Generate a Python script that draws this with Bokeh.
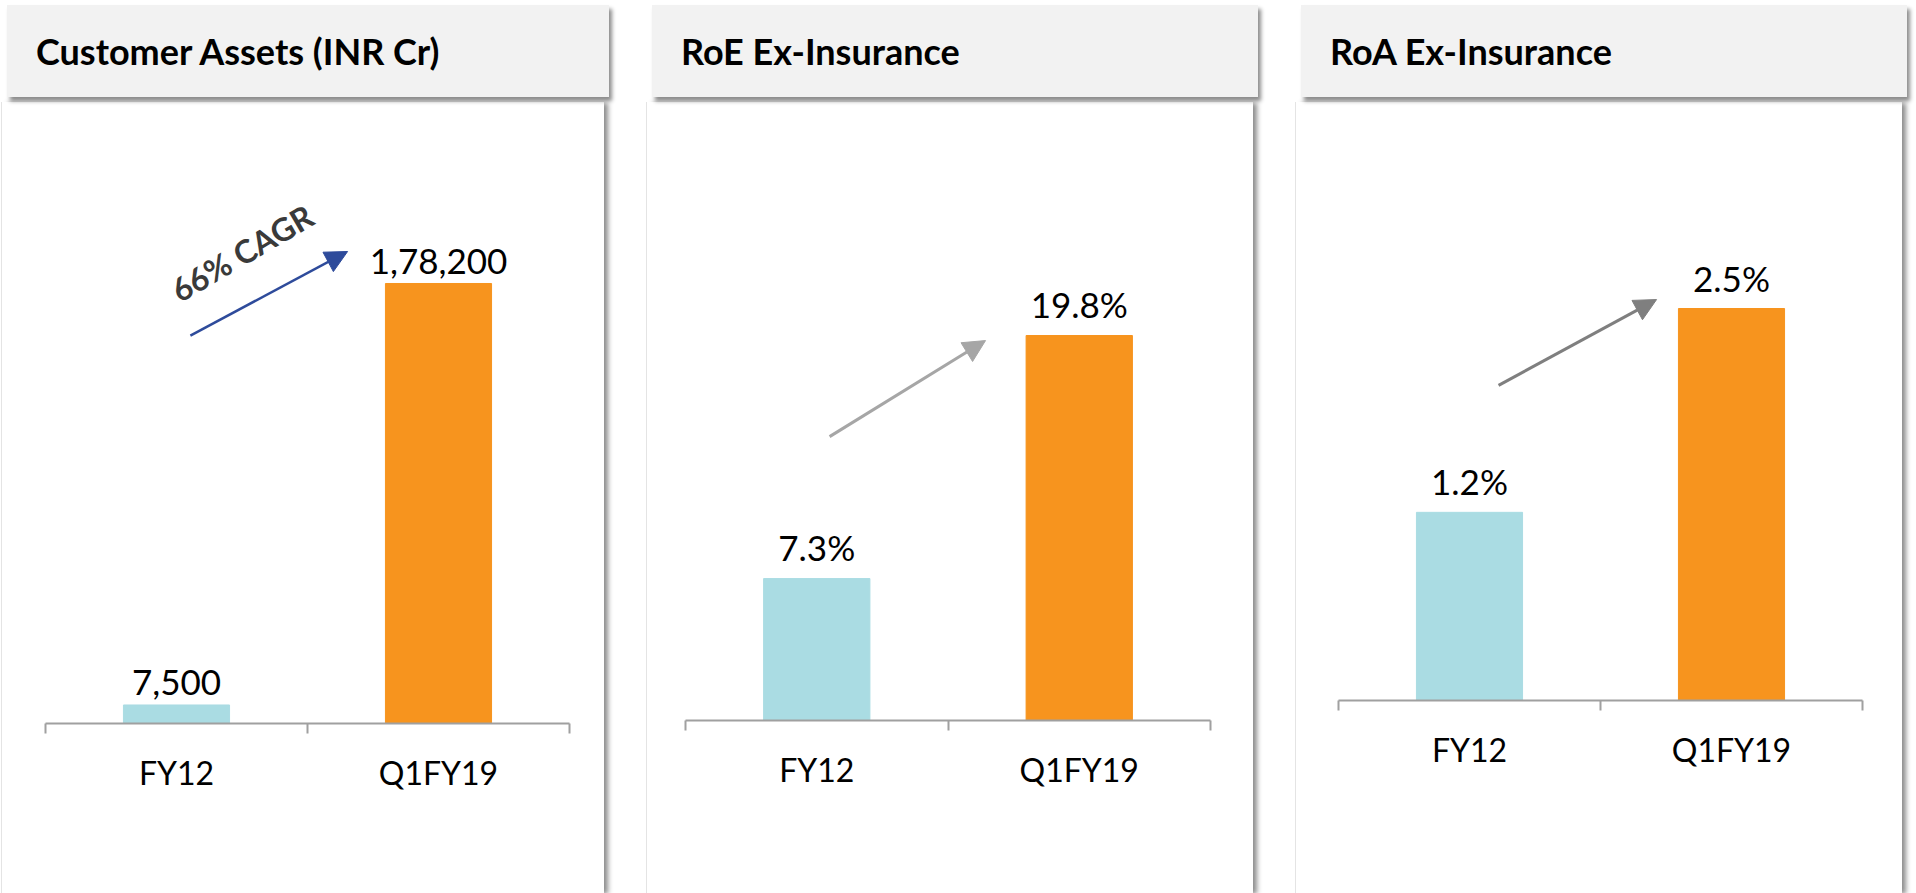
from bokeh.plotting import figure
from bokeh.layouts import row, column
from bokeh.models import (Div, Range1d, LinearAxis, FixedTicker,
                          Arrow, NormalHead, Label, ColumnDataSource, CustomJSTickFormatter)
from bokeh.core.properties import value
from bokeh.embed import file_html
from bokeh.resources import INLINE

# ---------------- data ----------------
categories = ["FY12", "Q1FY19"]
bar_colors = ["#AADCE3", "#F7941E"]

titles = ["Customer Assets (INR Cr)", "RoE Ex-Insurance", "RoA Ex-Insurance"]

customer_assets = [7500, 178200]
customer_assets_labels = ["7,500", "1,78,200"]

roe_ex_insurance = [7.3, 19.8]
roe_labels = ["7.3%", "19.8%"]

roa_ex_insurance = [1.2, 2.5]
roa_labels = ["1.2%", "2.5%"]

cagr_text = "66% CAGR"

# category slot positions on a numeric axis (slot i spans i..i+1)
cat_centers = [i + 0.5 for i in range(len(categories))]
cat_bounds = list(range(len(categories) + 1))

# ---------------- layout / style ----------------
FONT = "Lato"
HEADER_H = 92
FIG_H = 793

panels_cfg = [
    dict(title=titles[0], vals=customer_assets, labels=customer_assets_labels,
         y_end=247450, width=602, ml=2, mbl=43, mbr=35, mbb=172, gap=22,
         arrow=(0.553, 157100, 1.153, 191150), acolor="#2E4B9B", awidth=2.5),
    dict(title=titles[1], vals=roe_ex_insurance, labels=roe_labels,
         y_end=31.27, width=606, ml=33, mbl=38, mbr=43, mbb=175, gap=32,
         arrow=(0.549, 14.6, 1.143, 19.54), acolor="#A6A6A6", awidth=3),
    dict(title=titles[2], vals=roa_ex_insurance, labels=roa_labels,
         y_end=3.75, width=606, ml=33, mbl=42, mbr=40, mbb=195, gap=31,
         arrow=(0.611, 2.01, 1.214, 2.557), acolor="#7F7F7F", awidth=3),
]


def make_panel(i, cfg):
    header = Div(
        text=f'<div style="padding-left:29px;line-height:{HEADER_H}px;font-family:{FONT};'
             f'font-weight:bold;font-size:36px;color:#000;white-space:nowrap;">{cfg["title"]}</div>',
        width=cfg["width"], height=HEADER_H,
        styles={"background-color": "#F2F2F2",
                "box-shadow": "3px 4px 4px rgba(0,0,0,0.45)",
                "z-index": "2", "position": "relative"})

    p = figure(x_range=Range1d(0, len(categories)), y_range=Range1d(0, cfg["y_end"]),
               width=cfg["width"], height=FIG_H, x_axis_type=None, y_axis_type=None,
               toolbar_location=None, output_backend="svg",
               min_border_left=cfg["mbl"], min_border_right=cfg["mbr"],
               min_border_top=10, min_border_bottom=cfg["mbb"])
    p.outline_line_color = None
    p.background_fill_color = "white"
    p.border_fill_color = "white"
    p.styles = {"box-shadow": "-1px 0 0 0 #E4E4E4, 5px 0 5px -1px rgba(0,0,0,0.45)"}

    src = ColumnDataSource(dict(x=cat_centers, top=cfg["vals"], color=bar_colors, label=cfg["labels"]))
    p.vbar(x="x", top="top", width=0.405, color="color", source=src)
    p.text(x="x", y="top", text="label", source=src, text_align="center",
           text_baseline="alphabetic", y_offset=-cfg["gap"], text_font=value(FONT),
           text_font_size="35px", text_color="#000000")

    tick_axis = LinearAxis(ticker=FixedTicker(ticks=cat_bounds),
                           formatter=CustomJSTickFormatter(code="return ''"))
    tick_axis.axis_line_color = "#A0A0A0"
    tick_axis.axis_line_width = 2
    tick_axis.major_tick_line_color = "#A0A0A0"
    tick_axis.major_tick_line_width = 2
    tick_axis.major_tick_in = 0
    tick_axis.major_tick_out = 10
    tick_axis.minor_tick_line_color = None
    tick_axis.major_label_standoff = 0
    tick_axis.major_label_text_font_size = "1px"
    p.add_layout(tick_axis, "below")

    cat_axis = LinearAxis(ticker=FixedTicker(ticks=cat_centers),
                          major_label_overrides={c: n for c, n in zip(cat_centers, categories)})
    cat_axis.axis_line_color = None
    cat_axis.major_tick_line_color = None
    cat_axis.minor_tick_line_color = None
    cat_axis.major_label_text_font = FONT
    cat_axis.major_label_text_font_size = "32px"
    cat_axis.major_label_text_color = "#000000"
    cat_axis.major_label_standoff = 13
    p.add_layout(cat_axis, "below")

    x0, y0, x1, y1 = cfg["arrow"]
    p.add_layout(Arrow(end=NormalHead(size=22, fill_color=cfg["acolor"], line_color=cfg["acolor"]),
                       x_start=x0, y_start=y0, x_end=x1, y_end=y1,
                       line_color=cfg["acolor"], line_width=cfg["awidth"]))
    if i == 0:
        p.add_layout(Label(x=0.75, y=190700, text=cagr_text, angle=0.53,
                           text_align="center", text_baseline="middle", text_font=FONT,
                           text_font_style="bold", text_font_size="32px", text_color="#3A3A3A"))

    return column(header, p, margin=(0, 0, -8, cfg["ml"]))


layout = row(*[make_panel(i, c) for i, c in enumerate(panels_cfg)])

with open("out.html", "w") as f:
    f.write(file_html(layout, INLINE))
